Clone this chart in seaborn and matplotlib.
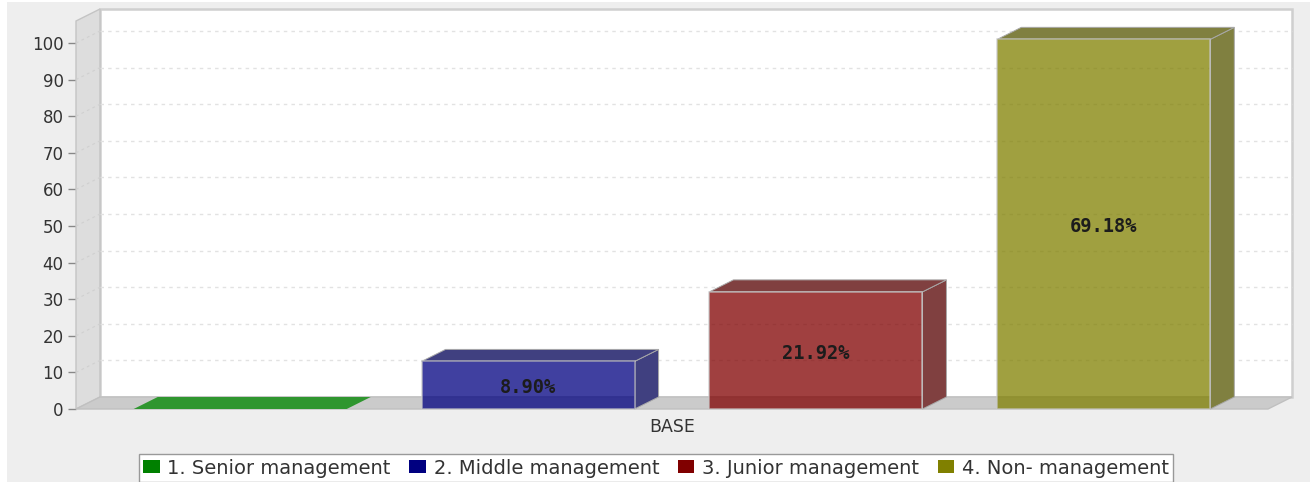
import matplotlib
matplotlib.use("Agg")
import matplotlib.pyplot as plt
import pandas as pd
import seaborn as sns
from matplotlib.colors import to_rgb
from matplotlib.patches import Patch, Polygon, Rectangle

categories = ["1. Senior management", "2. Middle management",
              "3. Junior management", "4. Non- management"]
heights = [0, 13, 32, 101]
labels = ["", "8.90%", "21.92%", "69.18%"]
colors = ["#008000", "#000080", "#800000", "#808000"]
group = "BASE"
y_ticks = list(range(0, 101, 10))

W, H = 1310, 482
DEPTH_X, DEPTH_Y = 24, 12
PX_PER_UNIT = 3.66


def mezcla(color):
    """Color of the shaded side and top faces of a box."""
    r, g, b = to_rgb(color)
    return ((r + 0.5) / 2, (g + 0.5) / 2, (b + 0.5) / 2)


sns.set_theme(style="white")
plt.rcParams["font.family"] = ["DejaVu Sans"]

fig = plt.figure(figsize=(W / 100, H / 100), dpi=100, facecolor="white")
fig.patches.append(Rectangle((7 / W, 0), 1 - 7 / W, 1 - 2 / H, transform=fig.transFigure,
                             facecolor="#eeeeee", edgecolor="none", zorder=-5))
ax = fig.add_axes([76 / W, (H - 409) / H, 1192 / W, 388 / H])
ax.patch.set_visible(False)

df = pd.DataFrame({"grupo": group, "nivel": categories, "valor": heights})
sns.barplot(data=df, x="grupo", y="valor", hue="nivel", hue_order=categories,
            palette=colors, saturation=1, width=0.966, gap=0.26, alpha=0.75,
            edgecolor="#c9c9c9", linewidth=1.1, legend=False, zorder=5, ax=ax)

ax.set_xlim(-0.5, 0.5)
ax.set_ylim(0, 388 / PX_PER_UNIT)
dx = DEPTH_X / 1192
dy = DEPTH_Y / PX_PER_UNIT
y_top = 388 / PX_PER_UNIT

# back wall, side wall and floor of the 3D box
ax.add_patch(Rectangle((-0.5 + dx, dy), 1, y_top, facecolor="white", edgecolor="#cfcfcf",
                       linewidth=1.8, clip_on=False, zorder=0.5))
ax.add_patch(Polygon([(-0.5, 0), (-0.5, y_top), (-0.5 + dx, y_top + dy), (-0.5 + dx, dy)],
                     facecolor="#dddddd", edgecolor="#c4c4c4", linewidth=1, clip_on=False, zorder=1))
ax.add_patch(Polygon([(-0.5, 0), (0.5, 0), (0.5 + dx, dy), (-0.5 + dx, dy)],
                     facecolor="#cbcbcb", edgecolor="#c0c0c0", linewidth=1, clip_on=False, zorder=1))

# dashed grid on the back wall and on the side wall
for t in y_ticks[1:]:
    ax.plot([-0.5 + dx, 0.5 + dx], [t + dy, t + dy], color="#e2e2e2", linewidth=1,
            linestyle=(0, (2.5, 3)), clip_on=False, zorder=2)
    ax.plot([-0.5, -0.5 + dx], [t, t + dy], color="#d0d0d0", linewidth=0.8,
            linestyle=(0, (2.5, 3)), clip_on=False, zorder=2)

# side and top faces, built from the bars seaborn drew
for cont, color, label in zip(ax.containers, colors, labels):
    bar = cont[0]
    x0 = bar.get_x()
    x1 = x0 + bar.get_width()
    v = bar.get_height()
    if v == 0:
        bar.set_visible(False)
        ax.add_patch(Polygon([(x0, 0), (x1, 0), (x1 + dx, dy), (x0 + dx, dy)],
                             facecolor="#2f962f", edgecolor="none", zorder=4))
    else:
        cara = mezcla(color)
        ax.add_patch(Polygon([(x1, 0), (x1 + dx, dy), (x1 + dx, v + dy), (x1, v)], facecolor=cara,
                             edgecolor="#a8a8a8", linewidth=0.7, clip_on=False, zorder=4))
        ax.add_patch(Polygon([(x0, v), (x1, v), (x1 + dx, v + dy), (x0 + dx, v + dy)], facecolor=cara,
                             edgecolor="#a8a8a8", linewidth=0.7, clip_on=False, zorder=4))
    textos = ax.bar_label(cont, labels=[label], label_type="center", family="DejaVu Sans Mono",
                          fontweight="bold", fontsize=13.5, color="#1c1c1c", zorder=7)
    for texto in textos:
        texto.xyann = (0, -2)

ax.set_yticks(y_ticks)
ax.set_xlabel("")
ax.set_ylabel("")
ax.tick_params(axis="y", left=True, length=6, width=1, color="#888888", pad=3,
               labelsize=12, labelcolor="#333333")
ax.tick_params(axis="x", bottom=False, pad=0.5, labelsize=12.5, labelcolor="#333333")
sns.despine(ax=ax, left=True, bottom=True)

handles = [Patch(facecolor=c, edgecolor="none", label=n) for c, n in zip(colors, categories)]
leg = fig.legend(handles=handles, loc="center", bbox_to_anchor=(656 / W, (H - 468) / H), ncol=4,
                 fontsize=14, frameon=True, fancybox=False, framealpha=1, facecolor="white",
                 edgecolor="#999999", handlelength=0.85, handleheight=0.62, handletextpad=0.4,
                 columnspacing=0.95, borderpad=0.22, labelcolor="#333333")

fig.savefig("out.png", dpi=100, facecolor=fig.get_facecolor())
plt.close(fig)
